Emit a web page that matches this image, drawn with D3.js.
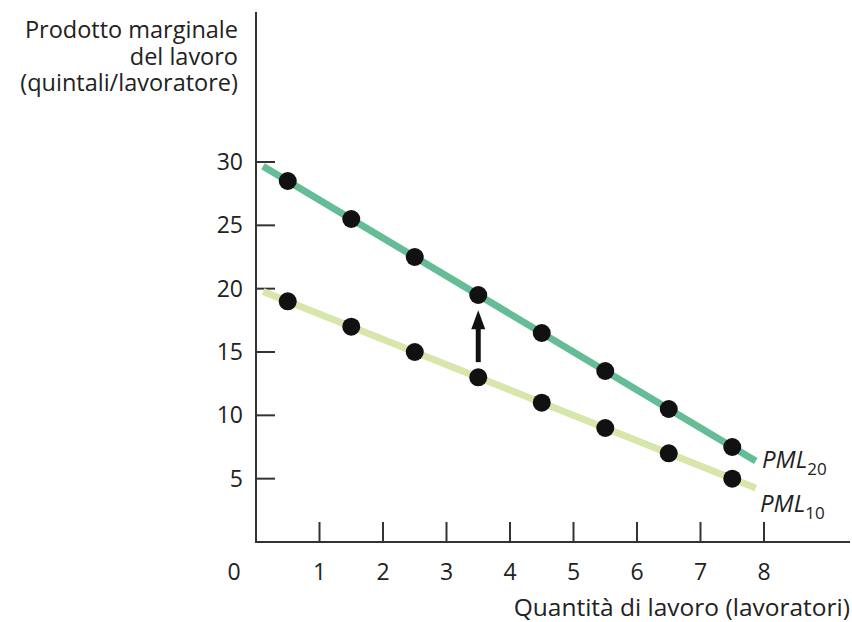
<!DOCTYPE html>
<html>
<head>
<meta charset="utf-8">
<script src="https://cdn.jsdelivr.net/npm/d3@7"></script>
<style>
  body { margin: 0; background: #fff; }
  svg { font-family: "Open Sans", "Noto Sans", sans-serif; }
</style>
</head>
<body>
<svg width="852" height="622"></svg>
<script>
// data
const workers = [0.5, 1.5, 2.5, 3.5, 4.5, 5.5, 6.5, 7.5];
const pml20 = [28.5, 25.5, 22.5, 19.5, 16.5, 13.5, 10.5, 7.5];
const pml10 = [19, 17, 15, 13, 11, 9, 7, 5];
// drawn line segments (start / end)
const lineX = [0.11, 7.87];
const pml20Line = [29.67, 6.4];
const pml10Line = [19.78, 4.26];
const xTicks = [1, 2, 3, 4, 5, 6, 7, 8];
const yTicks = [5, 10, 15, 20, 25, 30];
const yTitleLines = ["Prodotto marginale", "del lavoro", "(quintali/lavoratore)"];
// arrow: from PML10 up to PML20 at 3.5 workers
const arrowX = 3.5, arrowFrom = 14.2, arrowTo = 18.3;

const svg = d3.select("svg");

const x = d3.scaleLinear().domain([0, 8]).range([256, 764]);
const y = d3.scaleLinear().domain([0, 30]).range([542, 162]);

const axisColor = "#333";
const textColor = "#222";

// axes lines
svg.append("line")
  .attr("x1", 256).attr("x2", 256)
  .attr("y1", 12).attr("y2", 543)
  .attr("stroke", axisColor).attr("stroke-width", 2);
svg.append("line")
  .attr("x1", 255).attr("x2", 850)
  .attr("y1", 542).attr("y2", 542)
  .attr("stroke", axisColor).attr("stroke-width", 2);

// y ticks (pointing inward)
svg.selectAll(".ytick")
  .data(yTicks)
  .enter().append("line")
  .attr("x1", 256).attr("x2", 275)
  .attr("y1", d => y(d)).attr("y2", d => y(d))
  .attr("stroke", axisColor).attr("stroke-width", 2);

svg.selectAll(".ylab")
  .data(yTicks)
  .enter().append("text")
  .attr("x", 243)
  .attr("y", d => y(d) + 8)
  .attr("text-anchor", "end")
  .attr("font-size", 23)
  .attr("fill", textColor)
  .text(d => d);

// x ticks (pointing inward)
svg.selectAll(".xtick")
  .data(xTicks)
  .enter().append("line")
  .attr("x1", d => x(d)).attr("x2", d => x(d))
  .attr("y1", 542).attr("y2", 522)
  .attr("stroke", axisColor).attr("stroke-width", 2);

svg.selectAll(".xlab")
  .data([0].concat(xTicks))
  .enter().append("text")
  .attr("x", d => d === 0 ? 234 : x(d))
  .attr("y", 580)
  .attr("text-anchor", "middle")
  .attr("font-size", 23)
  .attr("fill", textColor)
  .text(d => d);

// axis titles
svg.selectAll(".ytitle")
  .data(yTitleLines)
  .enter().append("text")
  .attr("x", 238)
  .attr("y", (d, i) => 38 + i * 26.5)
  .attr("text-anchor", "end")
  .attr("font-size", 23.5)
  .attr("fill", textColor)
  .text(d => d);

svg.append("text")
  .attr("x", 850)
  .attr("y", 616)
  .attr("text-anchor", "end")
  .attr("font-size", 24.5)
  .attr("fill", textColor)
  .text("Quantità di lavoro (lavoratori)");

// curves
const line = d3.line().x(d => x(d[0])).y(d => y(d[1]));

svg.append("path")
  .datum(d3.zip(lineX, pml10Line))
  .attr("d", line)
  .attr("fill", "none")
  .attr("stroke", "#d8e6ac")
  .attr("stroke-width", 7);

svg.append("path")
  .datum(d3.zip(lineX, pml20Line))
  .attr("d", line)
  .attr("fill", "none")
  .attr("stroke", "#66bc96")
  .attr("stroke-width", 7);

// arrow
svg.append("line")
  .attr("x1", x(arrowX)).attr("x2", x(arrowX))
  .attr("y1", y(arrowFrom)).attr("y2", y(arrowTo) + 14)
  .attr("stroke", "#111").attr("stroke-width", 5);
svg.append("path")
  .attr("d", `M${x(arrowX)},${y(arrowTo)} L${x(arrowX) - 7},${y(arrowTo) + 19} L${x(arrowX) + 7},${y(arrowTo) + 19} Z`)
  .attr("fill", "#111");

// points
const dots = svg.append("g");
dots.selectAll(".p20")
  .data(d3.zip(workers, pml20))
  .enter().append("circle")
  .attr("cx", d => x(d[0])).attr("cy", d => y(d[1]))
  .attr("r", 9).attr("fill", "#111");
dots.selectAll(".p10")
  .data(d3.zip(workers, pml10))
  .enter().append("circle")
  .attr("cx", d => x(d[0])).attr("cy", d => y(d[1]))
  .attr("r", 9).attr("fill", "#111");

// curve labels
function curveLabel(px, py, sub) {
  const t = svg.append("text")
    .attr("x", px).attr("y", py)
    .attr("font-size", 24)
    .attr("font-style", "italic")
    .attr("fill", textColor);
  t.append("tspan").text("PML");
  t.append("tspan")
    .attr("dy", 7)
    .attr("font-size", 17)
    .attr("font-style", "normal")
    .text(sub);
}
curveLabel(762, 468, "20");
curveLabel(760, 512, "10");
</script>
</body>
</html>
